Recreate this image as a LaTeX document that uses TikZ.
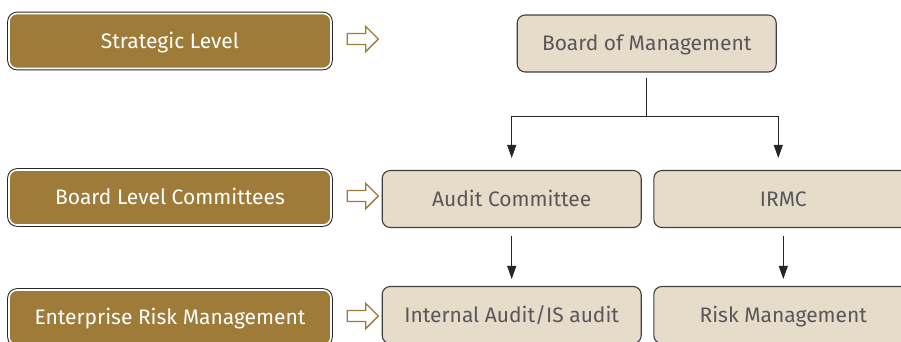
\documentclass[tikz,border=0pt]{standalone}
\usepackage{fontspec}
\setmainfont{Fira Sans}
\usepackage{tikz}
\usetikzlibrary{
  positioning,
  arrows.meta,
  shapes.arrows
}
\definecolor{gold}{RGB}{158,123,56}
\definecolor{beige}{RGB}{230,220,202}
\definecolor{textgray}{RGB}{88,88,88}
\tikzstyle{levelbox}=[rounded corners=8pt, fill=gold, draw=white, line width=1.6pt,
  preaction={draw=black!85, line width=3.6pt}, text height=16pt, text depth=1.6pt,
  minimum width=322pt, minimum height=55pt, text=white, font=\fontsize{21}{24}\selectfont]
\tikzstyle{unitbox}=[rounded corners=8pt, fill=beige, draw=black!75, line width=1.1pt,
  text height=16pt, text depth=1.6pt,
  minimum width=259pt, minimum height=57pt, text=textgray, font=\fontsize{21}{24}\selectfont]
\tikzstyle{hollow}=[single arrow, draw=gold, fill=white, line width=1.4pt,
  minimum height=31pt, inner sep=4.8pt, single arrow head extend=7pt]
\tikzstyle{conn}=[-{Triangle[length=13pt,width=9pt]}, line width=0.9pt, black!85]

\begin{document}
\begin{tikzpicture}[x=1pt, y=-1pt]
    \useasboundingbox (0,0) rectangle (901,341);

    % 左側のレベル
    \node[levelbox] (strategic) at (170,41) {Strategic Level};
    \node[levelbox] (committees) at (170,197.5) {Board Level Committees};
    \node[levelbox] (erm) at (170,317.5) {Enterprise Risk Management};

    % 中抜きの矢印
    \node[hollow] (arr1) at (360,39) {};
    \node[hollow] (arr2) at (360,196) {};
    \node[hollow] (arr3) at (360,316) {};

    % 右側の組織
    \node[unitbox] (bom) at (646.7,43.5) {Board of Management};
    \node[unitbox] (audit) at (511.7,199) {Audit Committee};
    \node[unitbox] (irmc) at (783.3,199) {IRMC};
    \node[unitbox] (ia) at (511.7,315) {Internal Audit/IS audit};
    \node[unitbox] (rm) at (783.3,315) {Risk Management};

    % 分岐点
    \coordinate (split) at (bom.south |- 0,116.7);

    % 接続線
    \draw[line width=0.9pt, black!85, shorten <=5pt] (bom.south) -- (split);
    \draw[conn, shorten >=12pt] (split) -| (audit.north);
    \draw[conn, shorten >=12pt] (split) -| ([xshift=-5pt]irmc.north);
    \draw[conn, shorten <=8pt, shorten >=7pt] (audit) -- (ia);
    \draw[conn, shorten <=8pt, shorten >=7pt] (irmc) -- (rm);
\end{tikzpicture}
\end{document}
